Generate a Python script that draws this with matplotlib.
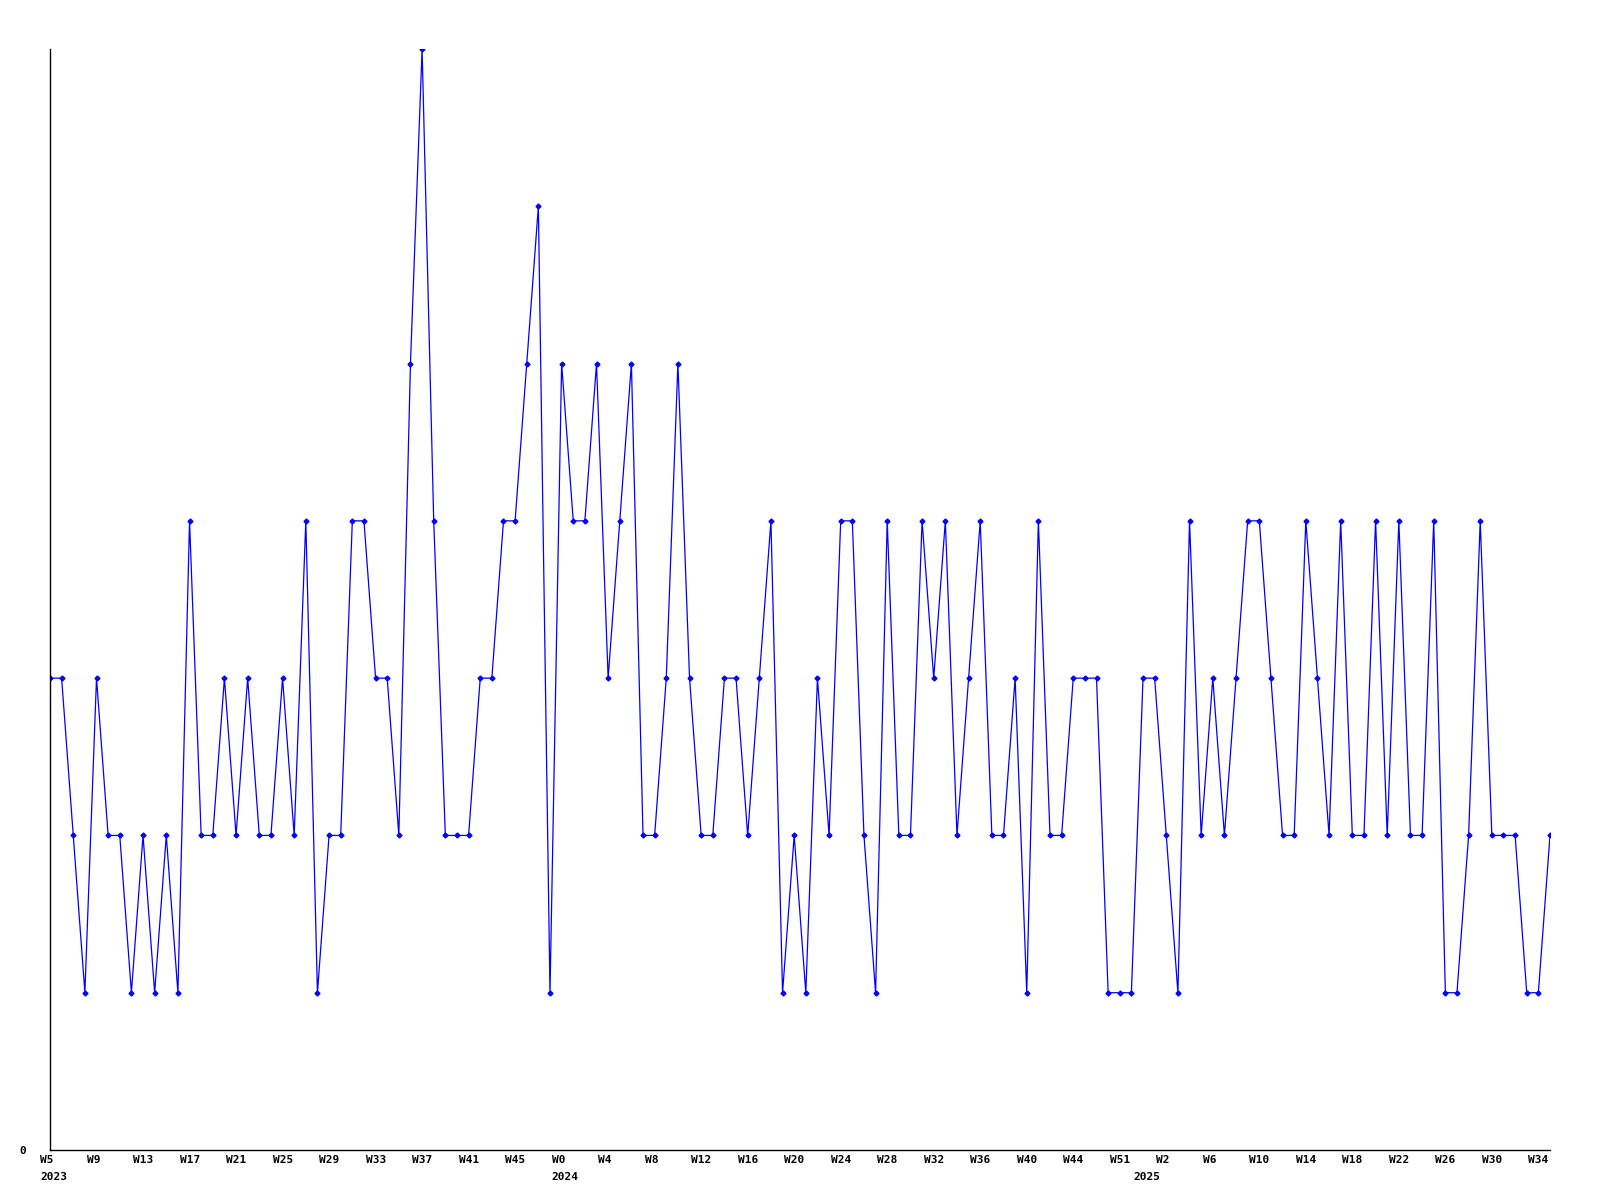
import matplotlib
matplotlib.use('Agg')
import matplotlib.pyplot as plt
from matplotlib.transforms import ScaledTranslation

# weekly counts, W5 2023 .. W35 2025 (130 points)
values = [3, 3, 2, 1, 3, 2, 2, 1, 2, 1, 2, 1, 4, 2, 2, 3, 2, 3, 2, 2,
          3, 2, 4, 1, 2, 2, 4, 4, 3, 3, 2, 5, 7, 4, 2, 2, 2, 3, 3, 4,
          4, 5, 6, 1, 5, 4, 4, 5, 3, 4, 5, 2, 2, 3, 5, 3, 2, 2, 3, 3,
          2, 3, 4, 1, 2, 1, 3, 2, 4, 4, 2, 1, 4, 2, 2, 4, 3, 4, 2, 3,
          4, 2, 2, 3, 1, 4, 2, 2, 3, 3, 3, 1, 1, 1, 3, 3, 2, 1, 4, 2,
          3, 2, 3, 4, 4, 3, 2, 2, 4, 3, 2, 4, 2, 2, 4, 2, 4, 2, 2, 4,
          1, 1, 2, 4, 2, 2, 2, 1, 1, 2]

week_labels = ['W5', 'W9', 'W13', 'W17', 'W21', 'W25', 'W29', 'W33', 'W37',
               'W41', 'W45', 'W0', 'W4', 'W8', 'W12', 'W16', 'W20', 'W24',
               'W28', 'W32', 'W36', 'W40', 'W44', 'W51', 'W2', 'W6', 'W10',
               'W14', 'W18', 'W22', 'W26', 'W30', 'W34']
label_step = 4
year_pos = [0, 44, 94]
year_labels = ['2023', '2024', '2025']

x = list(range(len(values)))

fig = plt.figure(figsize=(16, 12), dpi=100)
ax = fig.add_axes([0.03125, 0.04167, 0.9375, 0.9175])

ax.plot(x, values, '-', color='#0000ff', lw=0.9,
        marker='D', ms=2.5, mfc='#0000ff', mec='#0000ff')

ax.set_xlim(0, len(values) - 1)
ax.set_ylim(0, 7)

for s in ['top', 'right']:
    ax.spines[s].set_visible(False)
for s in ['left', 'bottom']:
    ax.spines[s].set_linewidth(1)

font = dict(family='DejaVu Sans Mono', weight='bold', size=8)

tick_pos = [i * label_step for i in range(len(week_labels))]
ax.set_xticks(tick_pos)
ax.set_xticklabels(week_labels, ha='left', **font)
ax.set_yticks([0])
ax.set_yticklabels(['0'], **font)
ax.tick_params(axis='both', length=0)
ax.tick_params(axis='x', pad=3.5)
ax.tick_params(axis='y', pad=17)

# labels start 10px left of their point
shift = ScaledTranslation(-0.10, 0, fig.dpi_scale_trans)
for lab in ax.get_xticklabels():
    lab.set_transform(lab.get_transform() + shift)

for xp, yr in zip(year_pos, year_labels):
    ax.annotate(yr, xy=(xp, 0), xycoords=('data', 'axes fraction'),
                xytext=(-7.2, -19.5), textcoords='offset points',
                ha='left', va='center', **font)

plt.savefig('out.png', dpi=100)
